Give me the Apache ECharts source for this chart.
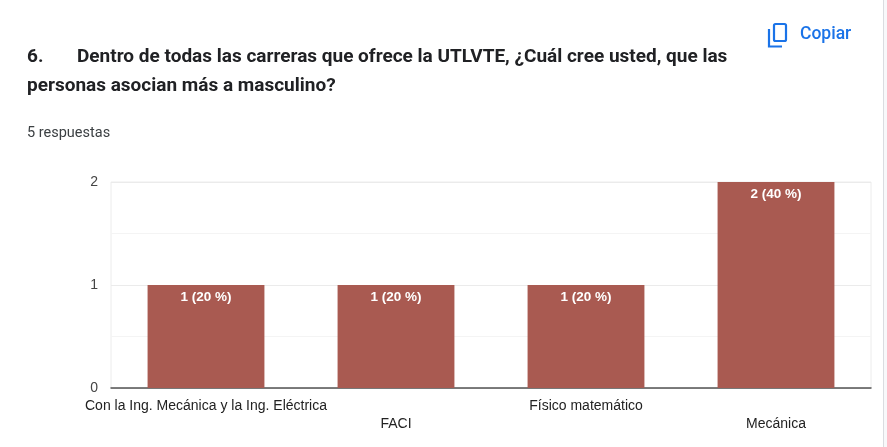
<!DOCTYPE html>
<html>
<head>
<meta charset="UTF-8">
<title></title>
<style>
  html, body { margin: 0; padding: 0; background: #f8f8fa; }
  #card { position: absolute; left: -10px; top: -10px; width: 894px; height: 470px;
          background: #fff; border: 1px solid #dadce0; border-radius: 8px; box-sizing: border-box; }
  #echart { position: absolute; left: 0; top: 0; width: 887px; height: 447px; }
</style>
</head>
<body>
<div id="card"></div>
<div id="echart"></div>
<script src="https://cdn.jsdelivr.net/npm/echarts@6/dist/echarts.min.js"></script>
<script type="text/javascript">
// datos de la pregunta 6
var categorias = ['Con la Ing. Mecánica y la Ing. Eléctrica', 'FACI', 'Físico matemático', 'Mecánica'];
var respuestas = [1, 1, 1, 2];
var totalRespuestas = 5;
var ticksY = [0, 1, 2];

var azul = '#1a73e8';
var myChart = echarts.init(document.getElementById('echart'));

myChart.setOption({
  animation: false,
  textStyle: { fontFamily: 'Liberation Sans, Arial, sans-serif' },
  title: [{
    text: '{n|6.}{t|Dentro de todas las carreras que ofrece la UTLVTE, ¿Cuál cree usted, que las}\n{t|personas asocian más a masculino?}',
    left: 27, top: 43, padding: 0,
    textStyle: {
      rich: {
        n: { fontFamily: 'Roboto', fontWeight: 'bold', fontSize: 19, color: '#202124', width: 50, lineHeight: 29 },
        t: { fontFamily: 'Roboto', fontWeight: 'bold', fontSize: 19, color: '#202124', lineHeight: 29 }
      }
    }
  }, {
    text: totalRespuestas + ' respuestas',
    left: 27, top: 126, padding: 0,
    textStyle: { fontFamily: 'Roboto', fontWeight: 'normal', fontSize: 14.5, color: '#3c4043' }
  }],
  graphic: [
    // icono de copiar
    { type: 'rect', shape: { x: 774, y: 24, width: 12, height: 17, r: 1.5 },
      style: { fill: 'none', stroke: azul, lineWidth: 2.2 } },
    { type: 'polyline', shape: { points: [[769, 29], [769, 46.5], [782, 46.5]] },
      style: { fill: 'none', stroke: azul, lineWidth: 2.2 } },
    { type: 'text', left: 800, top: 26,
      style: { text: 'Copiar', fill: azul, font: '500 17.5px Roboto' } }
  ],
  grid: {
    left: 111, right: 16, top: 182, bottom: 59,
    show: true, borderColor: '#ececec', borderWidth: 1
  },
  xAxis: {
    type: 'category',
    data: categorias,
    axisLine: { lineStyle: { color: '#555', width: 1.5 } },
    axisTick: { show: false },
    axisLabel: {
      interval: 0,
      margin: 9,
      color: '#222',
      fontSize: 14,
      lineHeight: 18,
      formatter: function (v, i) { return i % 2 === 1 ? '\n' + v : v; }
    }
  },
  yAxis: {
    type: 'value',
    min: 0, max: 2, interval: 0.5,
    axisLine: { show: false },
    axisTick: { show: false },
    axisLabel: {
      color: '#444', fontSize: 14, margin: 13,
      formatter: function (v) { return ticksY.indexOf(v) > -1 ? String(v) : ''; }
    },
    splitLine: { lineStyle: { color: ['#ddd', '#f4f4f4', '#ebebeb', '#f4f4f4', '#ebebeb'] } }
  },
  series: [{
    type: 'bar',
    data: respuestas,
    barWidth: '61.5%',
    itemStyle: { color: '#a95a51' },
    label: {
      show: true,
      position: 'insideTop',
      distance: 5,
      color: '#fff',
      fontWeight: 'bold',
      fontSize: 13.5,
      formatter: function (p) {
        return p.value + ' (' + Math.round(p.value / totalRespuestas * 100) + ' %)';
      }
    }
  }]
});
</script>
</body>
</html>
